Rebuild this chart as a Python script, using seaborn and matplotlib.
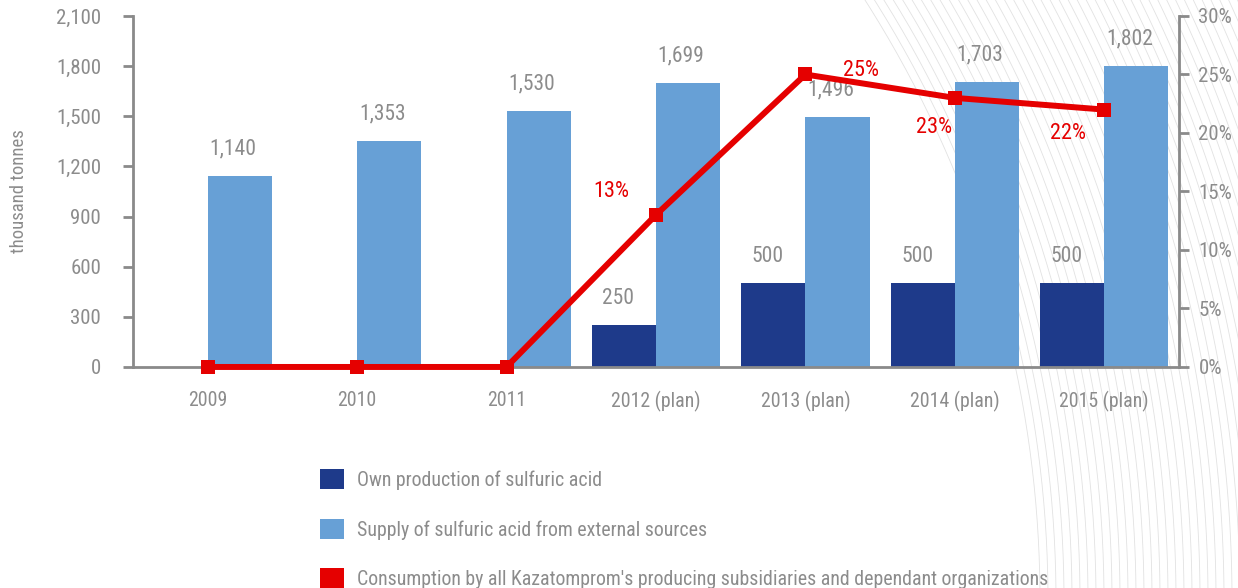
import matplotlib
matplotlib.use("Agg")
import matplotlib.pyplot as plt
from matplotlib import font_manager
from matplotlib.lines import Line2D
from matplotlib.patches import Patch
from matplotlib.ticker import FuncFormatter, MultipleLocator
import numpy as np
import pandas as pd
import seaborn as sns

# Data
years = ["2009", "2010", "2011", "2012 (plan)", "2013 (plan)", "2014 (plan)", "2015 (plan)"]
own_production = [0, 0, 0, 250, 500, 500, 500]
external_supply = [1140, 1353, 1530, 1699, 1496, 1703, 1802]
consumption_share = [0, 0, 0, 13, 25, 23, 22]  # percent

series_names = [
    "Own production of sulfuric acid",
    "Supply of sulfuric acid from external sources",
    "Consumption by all Kazatomprom's producing subsidiaries and dependant organizations",
]

DARK = "#1e3a8a"
LIGHT = "#67a0d6"
RED = "#e50000"
GREY = "#8c8c8c"
AXIS = "#8a8a8a"

sns.set_theme(style="white")

# prefer a narrow sans face when one is installed
installed = {f.name for f in font_manager.fontManager.ttflist}
narrow = [n for n in ("Roboto Condensed", "Liberation Sans Narrow", "Open Sans Condensed",
                      "Nimbus Sans Narrow", "Arial Narrow") if n in installed]
plt.rcParams["font.family"] = narrow[:1] + ["Roboto", "DejaVu Sans"]

df = pd.DataFrame({
    "year": years * 2,
    "value": own_production + external_supply,
    "series": [series_names[0]] * len(years) + [series_names[1]] * len(years),
})

W, H = 1238, 588
fig = plt.figure(figsize=(W / 100, H / 100), dpi=100)

# decorative backdrop: thin concentric arcs on the right
theta = np.linspace(0, np.pi / 2, 400)
cx, cy = -76, 600
for r in np.arange(1116, 1460, 8):
    px = cx + r * np.cos(theta)
    py = cy - r * np.sin(theta)
    keep = (py >= -5) & (px <= W + 5)
    fig.add_artist(Line2D(px[keep] / W, 1 - py[keep] / H, transform=fig.transFigure,
                          color="#e2e2e2", linewidth=0.6, zorder=-5))

ax = fig.add_axes([0.1074, 0.3759, 0.8449, 0.5969])
ax.patch.set_alpha(0)

sns.barplot(data=df, x="year", y="value", hue="series", order=years,
            hue_order=series_names[:2], palette=[DARK, LIGHT],
            width=0.86, gap=0, saturation=1, legend=False, ax=ax,
            edgecolor="none", linewidth=0)

ax.set_xlim(-0.5, len(years) - 0.5)
ax.set_ylim(0, 2100)
ax.yaxis.set_major_locator(MultipleLocator(300))
ax.yaxis.set_major_formatter(FuncFormatter(lambda v, p: f"{int(v):,}"))
ax.set_ylabel("thousand tonnes", color=GREY, fontsize=13.5, labelpad=20)
ax.set_xlabel("")

# value labels above the bars
for i in range(len(years)):
    if own_production[i] > 0:
        ax.annotate(f"{own_production[i]:,}", (i - 0.215, own_production[i]),
                    xytext=(-4, 12), textcoords="offset points",
                    ha="center", va="bottom", color=GREY, fontsize=15.5)
    ax.annotate(f"{external_supply[i]:,}", (i + 0.215, external_supply[i]),
                xytext=(-5, 12), textcoords="offset points",
                ha="center", va="bottom", color=GREY, fontsize=15.5)

# category ticks at group boundaries, labels at centres
ax.set_xticks(np.arange(len(years)))
ax.set_xticklabels(years)
ax.set_xticks(np.arange(len(years) + 1) - 0.5, minor=True)
ax.tick_params(axis="x", which="major", length=0, pad=17, labelsize=14.3, labelcolor=GREY)
ax.tick_params(axis="x", which="minor", length=6, width=2, color=AXIS, direction="out")
ax.tick_params(axis="y", which="major", length=7, width=2, color=AXIS, direction="out",
               labelsize=15, labelcolor=GREY, pad=16, left=True)

for side in ["top", "right"]:
    ax.spines[side].set_visible(False)
for side in ["left", "bottom"]:
    ax.spines[side].set_color(AXIS)
    ax.spines[side].set_linewidth(2)

# secondary axis: consumption share
ax2 = ax.twinx()
ax2.patch.set_alpha(0)
x_pos = np.arange(len(years))
ax2.plot(x_pos, consumption_share, color=RED, linewidth=4.3, marker="s",
         markersize=9.5, markeredgewidth=0, solid_joinstyle="miter", zorder=5,
         clip_on=False)
ax2.set_ylim(0, 30)
ax2.yaxis.set_major_locator(MultipleLocator(5))
ax2.yaxis.set_major_formatter(FuncFormatter(lambda v, p: f"{int(v)}%"))
ax2.tick_params(axis="y", which="major", length=7, width=2, color=AXIS, direction="out",
                labelsize=15, labelcolor=GREY, pad=7, right=True)
for side in ["top", "left", "bottom"]:
    ax2.spines[side].set_visible(False)
ax2.spines["right"].set_color(AXIS)
ax2.spines["right"].set_linewidth(2)
ax2.grid(False)
ax.grid(False)

pct_offsets = {3: (-32, 17), 4: (40, 3), 5: (-15, -21), 6: (-26, -17)}
for i, off in pct_offsets.items():
    ax2.annotate(f"{consumption_share[i]}%", (x_pos[i], consumption_share[i]),
                 xytext=off, textcoords="offset points", ha="center", va="center",
                 color=RED, fontsize=16)

# legend below the plot
handles = [Patch(facecolor=c, edgecolor="none") for c in (DARK, LIGHT, RED)]
leg = fig.legend(handles, series_names, loc="upper left",
                 bbox_to_anchor=(0.2585, 0.2024), frameon=False, fontsize=14.3,
                 handlelength=1.21, handleheight=1.21, handletextpad=0.65,
                 labelspacing=1.45, borderaxespad=0, borderpad=0)
for t in leg.get_texts():
    t.set_color(GREY)

fig.savefig("out.png", dpi=100)
